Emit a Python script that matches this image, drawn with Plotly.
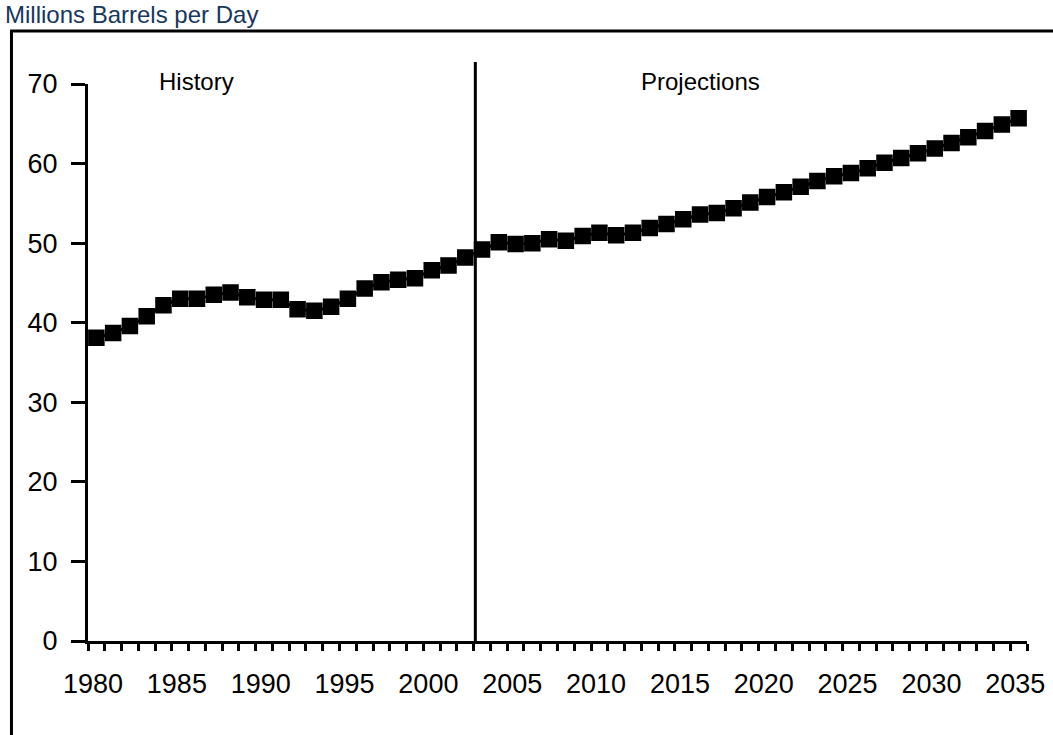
import plotly.graph_objects as go

years = list(range(1980, 2036))
consumption = [
    38.1, 38.7, 39.6, 40.8, 42.2, 43.0, 43.0, 43.5, 43.8, 43.2,
    42.9, 42.9, 41.7, 41.5, 42.0, 43.0, 44.3, 45.1, 45.4, 45.6,
    46.6, 47.2, 48.2, 49.2, 50.1, 49.9, 50.0, 50.5, 50.3, 50.9,
    51.3, 51.0, 51.3, 51.9, 52.4, 53.0, 53.6, 53.8, 54.4, 55.1,
    55.8, 56.4, 57.1, 57.8, 58.4, 58.8, 59.4, 60.1, 60.7, 61.3,
    61.9, 62.6, 63.3, 64.1, 64.9, 65.7,
]
x_tick_vals = [1980, 1985, 1990, 1995, 2000, 2005, 2010, 2015, 2020, 2025, 2030, 2035]
x_tick_text = [str(v) for v in x_tick_vals]
y_tick_vals = [0, 10, 20, 30, 40, 50, 60, 70]
divider_year = 2002.6
section_labels = ["History", "Projections"]
section_label_x = [1986.0, 2016.0]
unit_title = "Millions Barrels per Day"

FONT = "Arial, 'Liberation Sans', sans-serif"
LABEL_SHIFT = -0.2  # year labels sit slightly left of their category centres

fig = go.Figure()
fig.add_trace(go.Scatter(
    x=years, y=consumption, mode="lines+markers",
    line=dict(color="black", width=3),
    marker=dict(symbol="square", size=15, color="black",
                line=dict(color="black", width=1.5)),
    showlegend=False, hoverinfo="x+y",
))

fig.update_layout(
    width=1053, height=735,
    margin=dict(l=88, r=26, t=84, b=94),
    paper_bgcolor="white", plot_bgcolor="white",
    font=dict(family=FONT, color="black"),
    xaxis=dict(
        range=[1979.5, 2035.5], showgrid=False, zeroline=False,
        automargin=False,
        showline=True, linecolor="black", linewidth=3,
        tickmode="array", tickvals=[v + LABEL_SHIFT for v in x_tick_vals],
        ticktext=x_tick_text,
        ticks="", ticklabelstandoff=17,
        tickfont=dict(family=FONT, size=27, color="black"),
        minor=dict(ticks="outside", tick0=1979.5, dtick=1, ticklen=7,
                   tickwidth=3, tickcolor="black", showgrid=False),
    ),
    yaxis=dict(
        range=[0, 70], showgrid=False, zeroline=False,
        automargin=False,
        showline=True, linecolor="black", linewidth=3,
        tickmode="array", tickvals=y_tick_vals,
        ticks="outside", ticklen=14, tickwidth=3, tickcolor="black",
        ticklabelstandoff=8,
        tickfont=dict(family=FONT, size=27, color="black"),
    ),
)

# divider between history and projections
fig.add_shape(type="line", xref="x", yref="paper",
              x0=divider_year, x1=divider_year, y0=0, y1=1.0395,
              line=dict(color="black", width=3))

# outer frame (left and top edges)
fig.add_shape(type="line", xref="paper", yref="paper",
              x0=-0.0815, x1=-0.0815, y0=1.0952, y1=-0.3,
              line=dict(color="black", width=3))
fig.add_shape(type="line", xref="paper", yref="paper",
              x0=-0.083, x1=1.1, y0=1.0952, y1=1.0952,
              line=dict(color="black", width=3))

for label, lx in zip(section_labels, section_label_x):
    fig.add_annotation(x=lx, y=1.0036, xref="x", yref="paper",
                       text=label, showarrow=False,
                       xanchor="center", yanchor="middle",
                       font=dict(family=FONT, size=24, color="black"))

fig.add_annotation(x=-0.0902, y=1.124, xref="paper", yref="paper",
                   text=unit_title, showarrow=False,
                   xanchor="left", yanchor="middle",
                   font=dict(family=FONT, size=24, color="#17375E"))

# remove the browser's default 8px body margin so the figure fills the window
fig.write_html("out.html", config={"displayModeBar": False},
               post_script="document.body.style.margin='0';")
